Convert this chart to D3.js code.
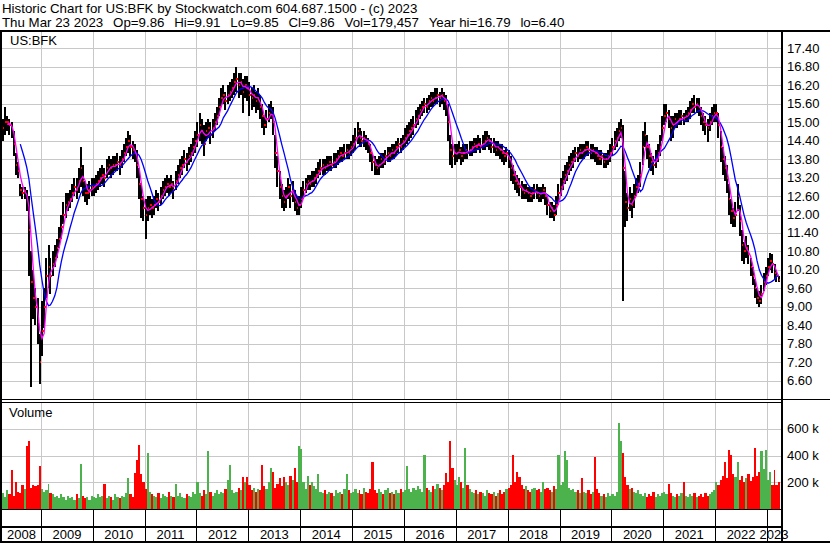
<!DOCTYPE html>
<html><head><meta charset="utf-8">
<script src="https://cdn.jsdelivr.net/npm/d3@7"></script>
<style>
body{margin:0;background:#fff}
svg{display:block}
text{font-family:"Liberation Sans",Arial,sans-serif;fill:#000}
</style>
</head><body>
<svg id="c" width="830" height="543"></svg>
<script>
// ---------- data (semi-monthly bars: 1st and 16th of each month, from 2008-04-01) ----------
const headerTitle = "Historic Chart for US:BFK by Stockwatch.com 604.687.1500 - (c) 2023";
const headerFields = ["Thu Mar 23 2023","Op=9.86","Hi=9.91","Lo=9.85","Cl=9.86","Vol=179,457","Year hi=16.79","lo=6.40"];
const symbolLabel = "US:BFK";
const volumeLabel = "Volume";
const firstBar = [2008, 3]; // year, month index (April)
const years = [2008,2009,2010,2011,2012,2013,2014,2015,2016,2017,2018,2019,2020,2021,2022,2023];
const priceTicks = [6.6,7.2,7.8,8.4,9.0,9.6,10.2,10.8,11.4,12.0,12.6,13.2,13.8,14.4,15.0,15.6,16.2,16.8,17.4];
const volumeTicks = [200000,400000,600000];
const volumeTickLabels = ["200 k","400 k","600 k"];

const close = [
 14.8,15.0,15.0,14.9,14.8,14.3,13.6,13.4,12.8,12.7,12.75,12.5,11.5,9.8,9.3,9.0,8.5,7.2,
 8.2,9.0,10.0,10.3,10.0,10.4,10.6,10.9,11.2,11.6,12.0,12.3,12.4,12.5,12.7,12.9,12.8,13.1,13.5,13.1,12.7,12.7,12.8,12.9,
 12.9,13.0,13.1,13.2,13.3,13.2,13.5,13.6,13.5,13.6,13.6,13.7,13.6,13.8,14.0,14.2,14.4,14.2,14.1,14.0,13.6,13.0,12.5,12.2,
 12.0,12.2,12.3,12.2,12.3,12.5,12.4,12.6,12.8,12.9,13.0,12.9,13.0,12.8,13.1,13.3,13.5,13.6,13.8,13.7,13.9,14.0,14.2,14.4,
 14.6,14.9,14.7,14.3,14.7,14.8,14.6,14.8,15.0,15.2,15.5,15.8,15.9,15.7,15.9,16.0,16.1,16.3,16.4,16.2,16.3,16.0,16.2,16.1,
 15.9,15.8,15.9,15.7,15.8,15.5,15.2,14.9,15.1,15.3,15.4,15.0,14.0,13.4,12.9,12.6,12.4,12.6,12.9,12.6,12.8,12.4,12.2,12.3,
 12.5,12.8,13.0,13.1,13.0,13.1,13.2,13.3,13.4,13.5,13.6,13.5,13.6,13.7,13.6,13.7,13.8,13.9,14.0,13.9,14.0,14.1,14.0,14.2,
 14.3,14.5,14.7,14.5,14.4,14.5,14.4,14.3,14.0,13.7,13.6,13.5,13.6,13.8,13.7,13.9,14.0,13.9,14.1,14.0,14.2,14.3,14.2,14.4,
 14.5,14.6,14.7,14.8,14.9,15.1,15.2,15.4,15.5,15.6,15.5,15.7,15.8,15.7,15.8,15.9,15.8,15.9,15.7,15.6,15.0,14.1,13.9,14.0,
 14.0,14.1,13.9,14.0,14.1,14.0,14.1,14.2,14.3,14.2,14.3,14.2,14.3,14.4,14.5,14.4,14.2,14.3,14.1,14.2,14.1,14.0,13.9,14.0,
 13.8,13.5,13.3,13.1,13.0,12.9,12.8,12.7,12.8,12.7,12.6,12.7,12.8,12.7,12.6,12.7,12.8,12.6,12.3,12.1,12.2,12.0,12.3,12.7,
 12.9,13.1,13.3,13.4,13.6,13.7,13.8,14.0,13.9,14.1,14.0,14.1,14.2,14.1,14.0,14.1,14.0,13.9,13.8,13.9,13.7,13.8,13.9,14.0,
 14.2,14.4,14.5,14.7,14.8,13.5,12.4,12.2,12.5,12.3,12.6,12.9,13.0,13.3,14.2,14.6,14.2,13.9,13.7,13.6,13.8,14.0,14.2,14.8,
 15.2,15.3,15.1,14.8,14.9,15.1,15.0,15.1,15.2,15.1,15.2,15.3,15.4,15.6,15.5,15.6,15.5,15.2,15.0,14.9,14.8,15.0,15.2,15.3,
 15.3,14.9,14.2,13.8,13.5,13.2,12.5,12.1,11.9,12.0,12.6,11.8,11.0,10.8,10.9,10.7,10.3,10.0,9.6,9.3,9.2,9.4,9.8,10.0,
 10.3,10.5,10.4,10.1,10.0,9.86
];
const high = [
 15.1,15.5,15.2,15.1,15.0,14.7,14.0,13.7,13.0,12.9,12.9,12.8,12.6,10.8,10.2,9.6,9.3,8.1,
 9.2,9.6,10.6,11.0,10.6,10.8,11.0,11.2,11.6,12.0,12.4,12.7,12.7,12.8,13.0,13.2,13.2,13.5,14.2,13.6,13.1,13.0,13.1,13.2,
 13.2,13.3,13.4,13.5,13.6,13.5,13.8,13.9,13.8,13.9,13.9,14.0,13.9,14.1,14.3,14.5,14.7,14.6,14.4,14.3,14.1,13.5,13.0,12.6,
 12.5,12.6,12.6,12.5,12.6,12.8,12.7,12.9,13.1,13.2,13.3,13.2,13.3,13.1,13.4,13.6,13.8,13.9,14.1,14.0,14.2,14.3,14.5,14.7,
 15.0,15.3,15.1,14.9,15.0,15.1,15.0,15.1,15.3,15.5,15.8,16.1,16.2,16.0,16.2,16.3,16.4,16.6,16.8,16.6,16.6,16.4,16.5,16.5,
 16.3,16.1,16.2,16.0,16.1,15.9,15.6,15.2,15.4,15.6,15.7,15.5,14.6,13.9,13.4,13.0,12.8,12.9,13.2,13.0,13.1,12.8,12.6,12.6,
 12.9,13.1,13.2,13.3,13.3,13.4,13.4,13.5,13.7,13.8,13.8,13.8,13.9,13.9,13.9,14.0,14.0,14.1,14.2,14.2,14.3,14.3,14.3,14.4,
 14.6,14.8,15.0,14.8,14.7,14.7,14.6,14.5,14.3,14.0,13.9,13.8,13.9,14.0,14.0,14.1,14.2,14.2,14.3,14.3,14.4,14.5,14.5,14.6,
 14.8,14.9,15.0,15.1,15.2,15.4,15.5,15.6,15.7,15.8,15.8,15.9,16.0,16.0,16.1,16.1,16.0,16.1,16.0,15.9,15.6,14.6,14.3,14.3,
 14.3,14.4,14.2,14.3,14.3,14.3,14.4,14.4,14.5,14.5,14.6,14.5,14.6,14.7,14.7,14.6,14.5,14.5,14.4,14.4,14.3,14.3,14.1,14.2,
 14.1,13.9,13.6,13.4,13.3,13.2,13.1,13.0,13.0,12.9,12.9,12.9,13.0,13.0,12.9,12.9,13.0,12.9,12.6,12.4,12.4,12.3,12.6,13.0,
 13.2,13.4,13.6,13.7,13.9,14.0,14.1,14.2,14.2,14.3,14.3,14.3,14.4,14.4,14.3,14.3,14.2,14.2,14.1,14.1,14.0,14.0,14.1,14.3,
 14.5,14.7,14.8,15.0,15.1,14.9,13.4,12.7,12.9,12.7,13.0,13.2,13.3,13.7,14.7,15.0,14.6,14.3,14.0,13.9,14.1,14.3,14.6,15.2,
 15.6,15.6,15.4,15.2,15.2,15.3,15.3,15.4,15.4,15.3,15.4,15.5,15.7,15.8,15.9,15.8,15.8,15.5,15.3,15.2,15.1,15.3,15.5,15.6,
 15.6,15.3,14.7,14.2,13.9,13.6,13.0,12.5,12.2,12.4,13.0,12.3,11.5,11.1,11.3,11.0,10.6,10.3,9.9,9.6,9.5,9.7,10.1,10.3,
 10.6,10.75,10.7,10.4,10.2,10.0
];
const low = [
 14.4,14.6,14.7,14.6,14.5,13.9,13.3,13.2,12.6,12.5,12.5,12.1,10.0,6.4,8.6,8.4,7.8,6.5,
 7.4,8.3,9.3,9.6,9.4,10.0,10.3,10.6,10.9,11.2,11.7,11.9,12.1,12.2,12.4,12.6,12.5,12.7,12.9,12.6,12.4,12.3,12.5,12.6,
 12.6,12.7,12.8,12.9,13.0,12.9,13.2,13.3,13.2,13.3,13.4,13.4,13.3,13.5,13.7,13.9,14.0,13.9,13.8,13.7,13.2,12.5,11.9,11.8,
 11.2,11.8,12.0,11.9,12.0,12.2,12.1,12.3,12.5,12.6,12.7,12.6,12.7,12.5,12.8,13.0,13.2,13.3,13.5,13.4,13.6,13.7,13.9,14.0,
 14.2,14.4,14.3,13.9,14.4,14.5,14.3,14.5,14.7,14.9,15.2,15.5,15.6,15.4,15.6,15.7,15.8,15.9,16.0,15.8,15.9,15.3,15.8,15.7,
 15.2,15.4,15.5,15.3,15.4,15.1,14.8,14.6,14.8,15.0,15.1,14.6,13.5,12.9,12.5,12.2,12.1,12.2,12.5,12.2,12.4,12.1,12.0,12.0,
 12.2,12.5,12.7,12.8,12.8,12.9,12.9,13.0,13.2,13.3,13.3,13.3,13.4,13.4,13.4,13.5,13.5,13.6,13.7,13.7,13.8,13.8,13.8,13.9,
 14.0,14.1,14.3,14.2,14.2,14.2,14.1,14.0,13.7,13.4,13.3,13.3,13.3,13.5,13.5,13.6,13.7,13.7,13.8,13.8,13.9,14.0,14.0,14.1,
 14.2,14.3,14.4,14.5,14.6,14.8,14.9,15.1,15.2,15.3,15.3,15.4,15.5,15.5,15.6,15.6,15.5,15.6,15.4,15.2,14.4,13.6,13.5,13.6,
 13.7,13.8,13.6,13.7,13.8,13.8,13.9,13.9,14.0,14.0,14.1,14.0,14.1,14.1,14.2,14.1,14.0,14.0,13.9,13.9,13.8,13.7,13.6,13.7,
 13.5,13.1,13.0,12.8,12.7,12.6,12.5,12.5,12.5,12.4,12.4,12.4,12.5,12.5,12.4,12.4,12.5,12.3,12.0,11.9,11.9,11.8,12.0,12.3,
 12.6,12.8,13.0,13.1,13.3,13.4,13.5,13.7,13.7,13.8,13.8,13.8,13.9,13.9,13.8,13.8,13.7,13.6,13.6,13.6,13.5,13.5,13.6,13.7,
 13.9,14.1,14.2,14.4,14.5,9.2,11.6,11.8,12.1,11.9,12.2,12.6,12.7,12.9,13.6,14.2,13.8,13.5,13.4,13.3,13.5,13.7,13.9,14.4,
 14.9,15.0,14.8,14.4,14.5,14.8,14.8,14.9,14.9,14.9,15.0,15.0,15.1,15.3,15.3,15.3,15.2,14.9,14.7,14.6,14.35,14.7,14.9,15.0,
 15.0,14.5,13.7,13.3,13.1,12.7,12.0,11.7,11.6,11.6,12.1,11.3,10.5,10.4,10.6,10.4,10.0,9.7,9.3,9.1,9.0,9.1,9.5,9.7,
 10.0,10.2,10.1,9.9,9.8,9.8
];
// volume in thousands of shares
const volumeK = [
 120,90,140,110,290,100,205,130,120,180,150,470,510,160,180,170,180,320,
 150,130,140,190,120,110,90,100,80,110,90,70,100,80,90,70,110,80,340,100,80,90,70,100,
 90,80,110,90,100,190,80,100,90,70,110,90,80,100,90,120,230,110,90,270,370,480,260,200,
 150,420,130,110,100,90,120,80,110,100,90,130,100,90,190,100,120,90,80,110,100,90,130,110,
 200,120,100,140,110,430,130,100,120,140,110,130,120,150,220,330,140,120,130,160,140,240,200,240,
 180,140,160,130,150,140,330,170,150,200,305,280,160,190,230,170,240,200,180,250,220,305,200,470,
 450,200,150,250,180,200,170,150,260,130,120,140,110,130,120,100,140,120,130,110,150,260,140,120,
 130,150,120,140,110,160,130,120,150,355,140,120,150,130,110,140,160,120,130,110,140,120,150,130,
 140,320,150,130,160,140,170,150,130,405,160,140,130,170,150,190,160,140,180,270,200,505,305,220,
 180,240,200,160,455,180,150,130,120,140,110,130,120,100,140,120,110,130,100,120,140,110,130,150,
 160,180,405,200,280,240,180,150,170,140,130,150,160,140,150,130,205,150,160,140,130,170,150,405,
 180,200,430,370,160,140,150,130,140,120,230,130,120,140,110,130,390,150,120,100,110,90,120,100,
 110,100,130,640,510,420,240,180,150,160,130,120,140,110,100,120,90,110,100,130,90,110,100,120,
 130,110,190,120,100,90,110,100,120,205,100,90,110,100,120,90,100,110,90,120,100,110,130,140,
 200,180,220,250,355,230,440,405,260,240,355,220,250,200,230,260,210,240,455,250,280,430,300,440,
 220,280,180,290,180,200
];
const shortMA = 3, longMA = 9;

// ---------- build ----------
const n = Math.min(close.length, high.length, low.length, volumeK.length);
function barDate(i){
  const m = firstBar[1] + Math.floor(i/2);
  return new Date(firstBar[0], m, (i%2) ? 16 : 1);
}
const bars = d3.range(n).map(i => ({
  i, date: barDate(i), next: barDate(i+1),
  c: close[i], h: high[i], l: low[i], v: volumeK[i]*1000,
  up: i === 0 ? true : close[i] >= close[i-1]
}));
function sma(p){
  return bars.map((b,i) => i < p-1 ? null : {date:b.date, v: d3.mean(close.slice(i-p+1, i+1))}).filter(d => d);
}

const L = 2, R = 781;
const PT = 30, PB = 399, VT = 402, VB = 509;
const svg = d3.select("#c");
const x = d3.scaleTime().domain([new Date(2009,0,1), new Date(2023,0,1)]).range([41, 767]);
const y = d3.scaleLinear().domain([6, 18]).range([PB, PT]);
const yv = d3.scaleLinear().domain([0, 800000]).range([VB, VT]);

svg.append("rect").attr("width",830).attr("height",543).attr("fill","#fff");

// header
svg.append("text").attr("x", 2).attr("y", 12.5).style("font-size","13.3px").text(headerTitle);
{
  let hx = 2;
  const gap = 9.8;
  headerFields.forEach(f => {
    const t = svg.append("text").attr("x", hx).attr("y", 26.5).style("font-size","13.3px").text(f);
    hx += t.node().getComputedTextLength() + gap;
  });
}

const grid = "#c8c8c8";
const yearBounds = years.slice(1).map(Y => x(new Date(Y,0,1)));
// vertical grid
const gg = svg.append("g").attr("shape-rendering","crispEdges");
gg.selectAll("line.vp").data(yearBounds).join("line").attr("class","vp")
  .attr("x1", d => Math.round(d)+0.5).attr("x2", d => Math.round(d)+0.5)
  .attr("y1", PT).attr("y2", PB).attr("stroke", grid);
gg.selectAll("line.vv").data(yearBounds).join("line").attr("class","vv")
  .attr("x1", d => Math.round(d)+0.5).attr("x2", d => Math.round(d)+0.5)
  .attr("y1", VT).attr("y2", VB).attr("stroke", grid);
// horizontal grid
gg.selectAll("line.hp").data(priceTicks).join("line").attr("class","hp")
  .attr("x1", L).attr("x2", R)
  .attr("y1", d => Math.round(y(d))+0.5).attr("y2", d => Math.round(y(d))+0.5).attr("stroke", grid);
gg.selectAll("line.hv").data(volumeTicks).join("line").attr("class","hv")
  .attr("x1", L).attr("x2", R)
  .attr("y1", d => Math.round(yv(d))+0.5).attr("y2", d => Math.round(yv(d))+0.5).attr("stroke", grid);

// volume bars
svg.append("g").attr("shape-rendering","crispEdges")
  .selectAll("rect").data(bars).join("rect")
  .attr("x", d => x(d.date))
  .attr("width", d => Math.max(1, x(d.next) - x(d.date)))
  .attr("y", d => yv(d.v)).attr("height", d => VB - yv(d.v))
  .attr("fill", d => d.up ? "#4cb34c" : "#ff0000");

// price bars
svg.append("g").attr("shape-rendering","crispEdges")
  .selectAll("rect").data(bars).join("rect")
  .attr("x", d => x(d.date)).attr("width", 2)
  .attr("y", d => y(d.h)).attr("height", d => Math.max(1, y(d.l) - y(d.h)))
  .attr("fill", "#000");
// close ticks (red)
svg.append("g").attr("shape-rendering","crispEdges")
  .selectAll("rect").data(bars).join("rect")
  .attr("x", d => x(d.date) + 1).attr("width", 1.5)
  .attr("y", d => y(d.c) - 1).attr("height", 2)
  .attr("fill", "#ff0000");

// moving averages
const line = d3.line().x(d => x(d.date) + 1).y(d => y(d.v));
svg.append("path").datum(sma(longMA)).attr("d", line)
  .attr("fill","none").attr("stroke","#0000ff").attr("stroke-width",1.3);
svg.append("path").datum(sma(shortMA)).attr("d", line)
  .attr("fill","none").attr("stroke","#ff00ff").attr("stroke-width",1.3);

// panel labels
svg.append("text").attr("x", 10).attr("y", 45).style("font-size","13px").text(symbolLabel);
svg.append("text").attr("x", 9).attr("y", 417).style("font-size","13px").text(volumeLabel);

// white right column
svg.append("rect").attr("x", 783).attr("y", 32).attr("width", 47).attr("height", 509).attr("fill","#fff");

// axis labels
svg.append("g").selectAll("text").data(priceTicks).join("text")
  .attr("x", 787).attr("y", d => y(d) + 4.5).style("font-size","13px")
  .text(d => d.toFixed(2));
svg.append("g").selectAll("text").data(volumeTicks).join("text")
  .attr("x", 787).attr("y", d => yv(d) + 4.5).style("font-size","13px")
  .text((d,i) => volumeTickLabels[i]);

// frame lines
const fr = svg.append("g").attr("shape-rendering","crispEdges").attr("fill", "#000");
fr.append("rect").attr("x",0).attr("y",30).attr("width",830).attr("height",2);
fr.append("rect").attr("x",0).attr("y",30).attr("width",2).attr("height",513);
fr.append("rect").attr("x",781).attr("y",30).attr("width",2).attr("height",513);
fr.append("rect").attr("x",0).attr("y",399).attr("width",830).attr("height",1);
fr.append("rect").attr("x",0).attr("y",402).attr("width",781).attr("height",1);
fr.append("rect").attr("x",0).attr("y",509).attr("width",781).attr("height",1);
fr.append("rect").attr("x",0).attr("y",526).attr("width",781).attr("height",2);
fr.append("rect").attr("x",0).attr("y",541).attr("width",830).attr("height",2);
fr.selectAll("rect.yd").data(yearBounds).join("rect").attr("class","yd")
  .attr("x", d => Math.round(d)).attr("y", 509).attr("width", 1).attr("height", 32);

// year labels centred in the visible part of each year
svg.append("g").selectAll("text").data(years).join("text")
  .attr("x", Y => {
    const a = Math.max(L, x(new Date(Y,0,1))), b = Math.min(R, x(new Date(Y+1,0,1)));
    return (a + b) / 2;
  })
  .attr("y", 539).attr("text-anchor","middle").style("font-size","13px")
  .text(Y => String(Y));
</script>
</body></html>
